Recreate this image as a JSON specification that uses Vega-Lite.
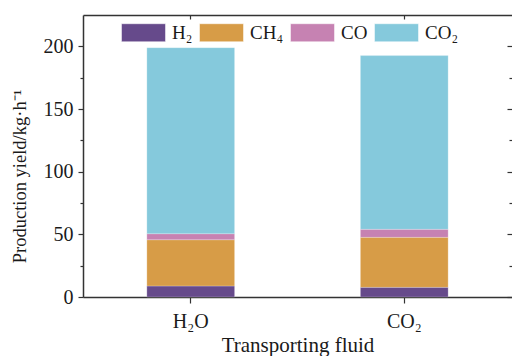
{
  "$schema": "https://vega.github.io/schema/vega-lite/v6.json",
  "width": 429,
  "height": 282,
  "autosize": {"type": "none"},
  "padding": {"left": 83, "top": 15, "right": 0, "bottom": 59},
  "background": "#ffffff",
  "config": {
    "view": {"stroke": null},
    "font": "Liberation Serif",
    "axis": {
      "labelFont": "Liberation Serif",
      "titleFont": "Liberation Serif",
      "labelColor": "#1a1a1a",
      "titleColor": "#1a1a1a",
      "domainColor": "#333333",
      "tickColor": "#333333",
      "domainWidth": 1.5,
      "tickWidth": 1.2,
      "grid": false,
      "titleFontWeight": "normal"
    }
  },
  "data": {
    "values": [
      {"fluid": "H₂O", "gas": "H₂", "yield": 8.8, "order": 1},
      {"fluid": "H₂O", "gas": "CH₄", "yield": 36.9, "order": 2},
      {"fluid": "H₂O", "gas": "CO", "yield": 4.8, "order": 3},
      {"fluid": "H₂O", "gas": "CO₂", "yield": 148.4, "order": 4},
      {"fluid": "CO₂", "gas": "H₂", "yield": 7.7, "order": 1},
      {"fluid": "CO₂", "gas": "CH₄", "yield": 39.9, "order": 2},
      {"fluid": "CO₂", "gas": "CO", "yield": 6.4, "order": 3},
      {"fluid": "CO₂", "gas": "CO₂", "yield": 138.6, "order": 4}
    ]
  },
  "layer": [
    {
      "mark": {"type": "bar", "stroke": "#ffffff", "strokeWidth": 0.4, "strokeOpacity": 0.6},
      "encoding": {
        "x": {
          "field": "fluid", "type": "nominal", "sort": ["H₂O", "CO₂"],
          "scale": {"paddingInner": 0.589, "paddingOuter": 0.299},
          "axis": {
            "title": "Transporting fluid", "titleFontSize": 21, "titlePadding": 3,
            "labelFontSize": 20, "labelAngle": 0, "labelPadding": 8, "tickSize": 6, "orient": "bottom"
          }
        },
        "y": {
          "field": "yield", "type": "quantitative", "stack": "zero",
          "scale": {"domain": [0, 225], "nice": false},
          "axis": {
            "title": "Production yield/kg·h⁻¹", "titleFontSize": 18.5, "titlePadding": 14,
            "titleY": 161,
            "labelFontSize": 20, "labelPadding": 5,
            "values": [0, 25, 50, 75, 100, 125, 150, 175, 200],
            "labelExpr": "datum.value % 50 === 0 ? datum.label : ''",
            "tickSize": {"condition": {"test": "datum.value % 50 === 0", "value": 5}, "value": 3},
            "orient": "left"
          }
        },
        "color": {
          "field": "gas", "type": "nominal",
          "sort": ["H₂", "CH₄", "CO", "CO₂"],
          "scale": {"domain": ["H₂", "CH₄", "CO", "CO₂"], "range": ["#664A8B", "#D79C47", "#C682B2", "#85C9DC"]},
          "legend": {
            "title": null, "orient": "none", "direction": "horizontal", "columns": 4,
            "legendX": 38, "legendY": -5,
            "symbolType": "M-1,-0.41H1V0.41H-1Z", "symbolSize": 1936,
            "symbolStrokeWidth": 0.5, "symbolStrokeColor": "#ffffff",
            "labelFontSize": 19, "labelFont": "Liberation Serif", "labelColor": "#1a1a1a",
            "labelOffset": 6, "columnPadding": 5
          }
        },
        "order": {"field": "order", "type": "quantitative"}
      }
    },
    {
      "mark": {"type": "bar", "opacity": 0},
      "encoding": {
        "x": {
          "field": "fluid", "type": "nominal", "sort": ["H₂O", "CO₂"],
          "axis": {"orient": "top", "title": null, "labels": false, "tickSize": -4}
        },
        "y": {
          "field": "yield", "type": "quantitative", "stack": "zero",
          "axis": {
            "orient": "right", "title": null, "labels": false, "domain": false,
            "values": [0, 25, 50, 75, 100, 125, 150, 175, 200],
            "tickSize": {"condition": {"test": "datum.value % 50 === 0", "value": -5}, "value": -3}
          }
        }
      }
    }
  ],
  "resolve": {"axis": {"x": "independent", "y": "independent"}}
}
